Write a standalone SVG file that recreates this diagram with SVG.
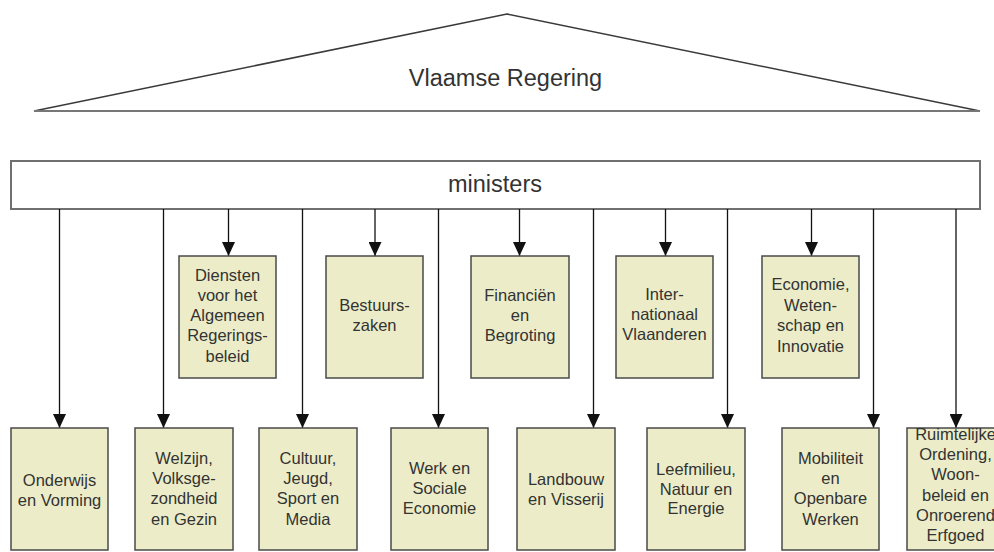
<svg xmlns="http://www.w3.org/2000/svg" width="994" height="552" viewBox="0 0 994 552">
<style>
text{font-family:"Liberation Sans",Arial,sans-serif;fill:#333;text-anchor:middle}
.bt{font-size:16.5px}
.box{fill:#ECEDC8;stroke:#4a4a4a;stroke-width:1.5}
.con{stroke:#111;stroke-width:1.3;fill:none}
</style>
<defs>
<marker id="arr" markerUnits="userSpaceOnUse" viewBox="0 0 14 13" refX="14" refY="6.5" markerWidth="14" markerHeight="13" orient="auto">
<path d="M0,0 L14,6.5 L0,13 z" fill="#111"/>
</marker>
</defs>
<rect width="994" height="552" fill="#fff"/>
<g id="vlaamse-regering">
<polygon points="34,111 507,14 980,111" fill="#fff" stroke="#3a3a3a" stroke-width="1.5"/>
<line x1="34" y1="111" x2="980" y2="111" stroke="#777" stroke-width="2"/>
<text x="505.5" y="86" font-size="23.5px">Vlaamse Regering</text>
</g>
<g id="ministers">
<rect x="11" y="161" width="969" height="48" fill="#fff" stroke="#707070" stroke-width="2"/>
<text x="495" y="192" font-size="23.5px">ministers</text>
</g>
<g id="connectors">
<line class="con" x1="59.5" y1="209" x2="59.5" y2="428" marker-end="url(#arr)"/>
<line class="con" x1="163.5" y1="209" x2="163.5" y2="428" marker-end="url(#arr)"/>
<line class="con" x1="228.5" y1="209" x2="228.5" y2="256" marker-end="url(#arr)"/>
<line class="con" x1="302.5" y1="209" x2="302.5" y2="428" marker-end="url(#arr)"/>
<line class="con" x1="375" y1="209" x2="375" y2="256" marker-end="url(#arr)"/>
<line class="con" x1="438.5" y1="209" x2="438.5" y2="428" marker-end="url(#arr)"/>
<line class="con" x1="519.5" y1="209" x2="519.5" y2="256" marker-end="url(#arr)"/>
<line class="con" x1="593.5" y1="209" x2="593.5" y2="428" marker-end="url(#arr)"/>
<line class="con" x1="665.5" y1="209" x2="665.5" y2="256" marker-end="url(#arr)"/>
<line class="con" x1="727.5" y1="209" x2="727.5" y2="428" marker-end="url(#arr)"/>
<line class="con" x1="811.5" y1="209" x2="811.5" y2="256" marker-end="url(#arr)"/>
<line class="con" x1="873.5" y1="209" x2="873.5" y2="428" marker-end="url(#arr)"/>
<line class="con" x1="956" y1="209" x2="956" y2="428" marker-end="url(#arr)"/>
</g>
<g id="diensten">
<rect class="box" x="179" y="256" width="97" height="122"/>
<text class="bt"><tspan x="227.5" y="280.5">Diensten</tspan><tspan x="227.5" y="300.8">voor het</tspan><tspan x="227.5" y="321">Algemeen</tspan><tspan x="227.5" y="341.4">Regerings-</tspan><tspan x="227.5" y="361.8">beleid</tspan></text>
</g>
<g id="bestuurszaken">
<rect class="box" x="326" y="256" width="97" height="122"/>
<text class="bt"><tspan x="374.5" y="311">Bestuurs-</tspan><tspan x="374.5" y="331.4">zaken</tspan></text>
</g>
<g id="financien">
<rect class="box" x="471" y="256" width="98" height="122"/>
<text class="bt"><tspan x="520" y="300.6">Financiën</tspan><tspan x="520" y="321">en</tspan><tspan x="520" y="341.4">Begroting</tspan></text>
</g>
<g id="internationaal">
<rect class="box" x="616" y="256" width="97" height="122"/>
<text class="bt"><tspan x="664.5" y="299.6">Inter-</tspan><tspan x="664.5" y="320">nationaal</tspan><tspan x="664.5" y="340.4">Vlaanderen</tspan></text>
</g>
<g id="economie">
<rect class="box" x="762" y="256" width="97" height="122"/>
<text class="bt"><tspan x="810.5" y="290.4">Economie,</tspan><tspan x="810.5" y="310.8">Weten-</tspan><tspan x="810.5" y="331.2">schap en</tspan><tspan x="810.5" y="351.6">Innovatie</tspan></text>
</g>
<g id="onderwijs">
<rect class="box" x="11" y="428" width="97" height="122"/>
<text class="bt"><tspan x="59.5" y="485.5">Onderwijs</tspan><tspan x="59.5" y="505.5">en Vorming</tspan></text>
</g>
<g id="welzijn">
<rect class="box" x="135" y="428" width="98" height="122"/>
<text class="bt"><tspan x="184" y="463.5">Welzijn,</tspan><tspan x="184" y="484">Volksge-</tspan><tspan x="184" y="504.4">zondheid</tspan><tspan x="184" y="524.8">en Gezin</tspan></text>
</g>
<g id="cultuur">
<rect class="box" x="259" y="428" width="98" height="122"/>
<text class="bt"><tspan x="308" y="463.5">Cultuur,</tspan><tspan x="308" y="484">Jeugd,</tspan><tspan x="308" y="504.4">Sport en</tspan><tspan x="308" y="524.8">Media</tspan></text>
</g>
<g id="werk">
<rect class="box" x="391" y="428" width="97" height="122"/>
<text class="bt"><tspan x="439.5" y="473.5">Werk en</tspan><tspan x="439.5" y="494">Sociale</tspan><tspan x="439.5" y="514.4">Economie</tspan></text>
</g>
<g id="landbouw">
<rect class="box" x="517" y="428" width="98" height="122"/>
<text class="bt"><tspan x="566" y="485">Landbouw</tspan><tspan x="566" y="505">en Visserij</tspan></text>
</g>
<g id="leefmilieu">
<rect class="box" x="647" y="428" width="98" height="122"/>
<text class="bt"><tspan x="696" y="474.5">Leefmilieu,</tspan><tspan x="696" y="494.5">Natuur en</tspan><tspan x="696" y="514">Energie</tspan></text>
</g>
<g id="mobiliteit">
<rect class="box" x="782" y="428" width="97" height="122"/>
<text class="bt"><tspan x="830.5" y="463.5">Mobiliteit</tspan><tspan x="830.5" y="484">en</tspan><tspan x="830.5" y="504.4">Openbare</tspan><tspan x="830.5" y="524.8">Werken</tspan></text>
</g>
<g id="ruimtelijke-ordening">
<rect class="box" x="907" y="428" width="97" height="122"/>
<text class="bt"><tspan x="955.5" y="439.5">Ruimtelijke</tspan><tspan x="955.5" y="459.8">Ordening,</tspan><tspan x="955.5" y="480.2">Woon-</tspan><tspan x="955.5" y="500.6">beleid en</tspan><tspan x="955.5" y="521">Onroerend</tspan><tspan x="955.5" y="541.4">Erfgoed</tspan></text>
</g>
</svg>
